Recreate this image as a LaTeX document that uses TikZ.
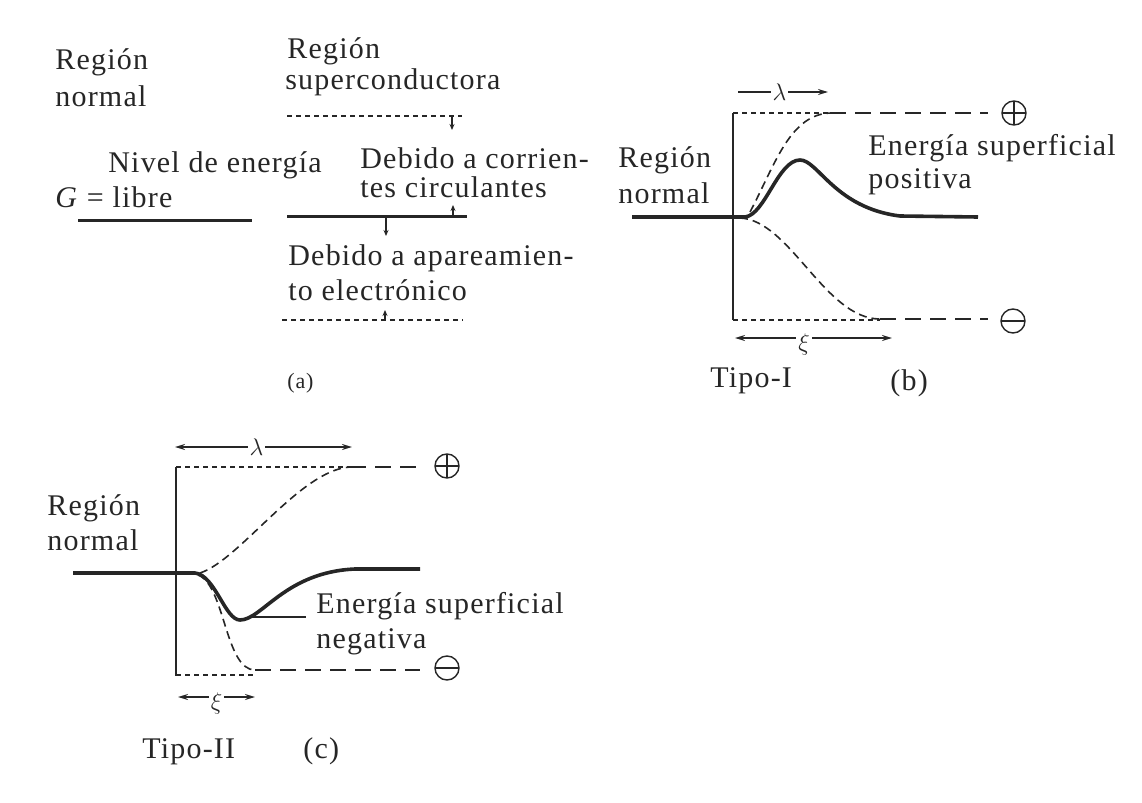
\documentclass[tikz,border=0pt]{standalone}
\usepackage{fontspec}
\setmainfont{Liberation Serif}[LetterSpace=4]
\usetikzlibrary{arrows.meta}

\begin{document}
\begin{tikzpicture}[x=0.5pt,y=-0.5pt,
  ink/.style={draw=black!85},
  txt/.style={font=\fontsize{15}{17}\selectfont,anchor=base west,inner sep=0pt,text=black!85},
  greek/.style={font=\fontsize{12}{12}\selectfont,fill=white,inner sep=1pt,text=black!85},
  level/.style={ink,line width=1.5pt},
  sdash/.style={ink,line width=0.8pt,dash pattern=on 2.5pt off 2pt},
  ldash/.style={ink,line width=0.9pt,dash pattern=on 8pt off 4.5pt},
  cdash/.style={ink,line width=0.8pt,dash pattern=on 4pt off 2.5pt},
  energy/.style={ink,line width=1.8pt,line join=round},
  wall/.style={ink,line width=0.8pt},
  dimarrow/.style={ink,line width=0.8pt,{Stealth[length=5pt,width=3pt]}-{Stealth[length=5pt,width=3pt]}},
  halfarrow/.style={ink,line width=0.8pt,-{Stealth[length=5pt,width=3pt]}},
  gaparrow/.style={ink,line width=0.9pt,-{Stealth[length=3pt,width=2.5pt]}},
  pole/.style={circle,ink,line width=0.7pt,minimum size=12pt,inner sep=0pt},
  poleplus/.style={pole,path picture={\draw[line width=0.7pt,black!85]
    (path picture bounding box.west) -- (path picture bounding box.east)
    (path picture bounding box.north) -- (path picture bounding box.south);}},
  poleminus/.style={pole,path picture={\draw[line width=0.7pt,black!85]
    (path picture bounding box.west) -- (path picture bounding box.east);}}]
\useasboundingbox (0,0) rectangle (1142,803);

% (a) energy levels
\node[txt] (rnA1) at (55,69) {Región};
\node[txt] (rnA2) at (55,106) {normal};
\node[txt] (rsA1) at (287,58) {Región};
\node[txt] (rsA2) at (285,90) {superconductora};
\node[txt] (nivel) at (108,172) {Nivel de energía};
\node[txt] (gfree) at (55,207) {\textit{G} = libre};
\node[txt] (corr1) at (360,168) {Debido a corrien-};
\node[txt] (corr2) at (360,197) {tes circulantes};
\node[txt] (apar1) at (288,265) {Debido a apareamien-};
\node[txt] (apar2) at (288,300) {to electrónico};
\node[txt,font=\fontsize{11}{13}\selectfont] (capA) at (287,388) {(a)};
\draw[level] (78,220) -- (252,220);
\draw[level] (287,216) -- (467,216);
\draw[sdash] (287,116) -- (462,116);
\draw[sdash] (282,320) -- (463,320);
\coordinate (corrTop) at (452,117);
\coordinate (corrTopEnd) at (452,130);
\coordinate (corrBot) at (453,215);
\coordinate (corrBotEnd) at (453,205);
\coordinate (aparTop) at (386,218);
\coordinate (aparTopEnd) at (386,236);
\coordinate (aparBot) at (385,319);
\coordinate (aparBotEnd) at (385,310);
\draw[gaparrow] (corrTop) -- (corrTopEnd);
\draw[gaparrow] (corrBot) -- (corrBotEnd);
\draw[gaparrow] (aparTop) -- (aparTopEnd);
\draw[gaparrow] (aparBot) -- (aparBotEnd);

% (b) Tipo-I
\node[txt] (rnB1) at (618,167) {Región};
\node[txt] (rnB2) at (618,203) {normal};
\node[txt] (esB1) at (868,155) {Energía superficial};
\node[txt] (esB2) at (868,188) {positiva};
\node[txt] (tipoI) at (710,387) {Tipo-I};
\node[txt] (capB) at (890,390) {(b)};
\node[poleplus] (plusB) at (1014,113) {};
\node[poleminus] (minusB) at (1013,321) {};
\draw[wall] (733,113) -- (733,320);
\draw[sdash] (733,113) -- (830,113);
\draw[ldash] (830,113) -- (988,113);
\draw[cdash] (750,212) .. controls (775,165) and (790,113) .. (832,113);
\draw[energy] (632,217) -- (745,217) .. controls (765,215) and (778,160) .. (800,160)
  .. controls (818,160) and (835,208) .. (900,216) -- (978,217);
\draw[cdash] (740,218) .. controls (790,220) and (825,319) .. (880,319);
\draw[ldash] (880,319) -- (988,319);
\draw[sdash] (733,320) -- (880,320);
\coordinate (lamBl) at (738,92);
\coordinate (lamBr) at (828,92);
\draw[halfarrow] (lamBl) -- node[greek,pos=0.46] (lamB) {$\lambda$} (lamBr);
\coordinate (xiBl) at (735,338);
\coordinate (xiBr) at (892,338);
\draw[dimarrow] (xiBl) -- node[greek,pos=0.44,yshift=-3pt] (xiB) {$\xi$} (xiBr);

% (c) Tipo-II
\node[txt] (rnC1) at (47,515) {Región};
\node[txt] (rnC2) at (47,550) {normal};
\node[txt] (esC1) at (316,613) {Energía superficial};
\node[txt] (esC2) at (316,648) {negativa};
\node[txt] (tipoII) at (142,758) {Tipo-II};
\node[txt] (capC) at (303,758) {(c)};
\node[poleplus] (plusC) at (447,466) {};
\node[poleminus] (minusC) at (447,668) {};
\draw[wall] (176,467) -- (176,676);
\draw[sdash] (176,467) -- (350,467);
\draw[ldash] (350,467) -- (420,467);
\draw[cdash] (200,573) .. controls (240,560) and (300,470) .. (350,467);
\draw[energy] (73,573) -- (195,573) .. controls (215,575) and (225,620) .. (240,620)
  .. controls (262,620) and (285,572) .. (355,569) -- (420,569);
\draw[cdash] (198,575) .. controls (225,585) and (225,670) .. (255,670);
\draw[ldash] (255,670) -- (420,670);
\draw[sdash] (176,675) -- (255,675);
\coordinate (dipC) at (250,617);
\coordinate (ptrC) at (306,617);
\draw[wall] (dipC) -- (ptrC);
\coordinate (lamCl) at (175,447);
\coordinate (lamCr) at (352,447);
\draw[dimarrow] (lamCl) -- node[greek,pos=0.46] (lamC) {$\lambda$} (lamCr);
\coordinate (xiCl) at (178,697);
\coordinate (xiCr) at (255,697);
\draw[dimarrow] (xiCl) -- node[greek,pos=0.5,yshift=-3pt] (xiC) {$\xi$} (xiCr);
\end{tikzpicture}
\end{document}
